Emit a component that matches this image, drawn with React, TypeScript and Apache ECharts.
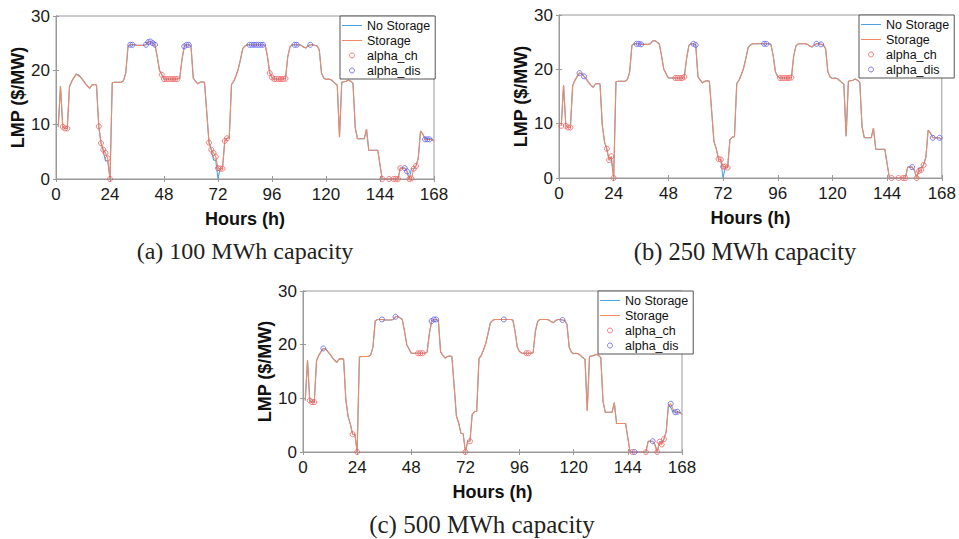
import React, { useEffect, useRef } from "react";
import * as echarts from "echarts";

// ---------- DATA ----------
const xTicks = [0, 24, 48, 72, 96, 120, 144, 168];
const yTicks = [0, 10, 20, 30];

// LMP without storage, hours 1..168
const noStorage = [
  9.6, 17.1, 9.6, 9.3, 9.3, 17.0, 18.0, 18.7, 19.3, 19.2, 18.7, 18.2, 17.6, 17.1, 16.7, 17.3, 17.4, 17.3, 9.7, 6.6,
  5.2, 3.3, 3.3, 0.0, 17.7, 17.8, 17.8, 17.8, 17.8, 18.1, 19.5, 24.4, 24.7, 24.7, 24.7, 24.6, 24.6, 24.6, 24.6, 24.7,
  25.2, 25.3, 25.0, 24.7, 22.5, 20.0, 19.2, 18.4, 18.4, 18.4, 18.4, 18.4, 18.4, 18.4, 18.6, 22.0, 24.4, 24.7, 24.7, 24.5,
  18.6, 18.0, 17.5, 17.8, 17.9, 17.8, 12.3, 6.7, 5.4, 3.5, 3.4, 0.0, 2.0, 2.0, 7.0, 7.5, 7.6, 17.4, 18.0, 19.0,
  20.2, 22.0, 24.0, 24.5, 24.7, 24.7, 24.7, 24.7, 24.7, 24.7, 24.7, 24.7, 24.6, 22.5, 19.5, 18.7, 18.4, 18.4, 18.4, 18.4,
  18.4, 18.5, 22.5, 24.3, 24.7, 24.7, 24.7, 24.7, 24.6, 24.3, 24.1, 24.5, 24.7, 24.7, 24.6, 24.5, 23.8, 19.5, 18.6, 18.3,
  18.4, 18.3, 18.0, 17.6, 17.3, 7.7, 17.8, 17.9, 18.0, 18.2, 18.0, 17.6, 9.4, 7.4, 7.4, 7.4, 7.4, 9.2, 5.3, 5.3,
  5.3, 5.3, 5.3, 2.6, 0.0, 0.0, 0.0, 0.0, 0.0, 0.0, 0.0, 0.0, 2.0, 2.0, 2.0, 1.4, 0.0, 1.9, 1.9, 2.4,
  3.8, 8.8, 8.3, 7.5, 7.4, 7.4, 7.4, 7.0,
];

// Storage LMP = no-storage LMP except at these [hour, value] points
const storageDiffA: [number, number][] = [
  [10, 19.0], [21, 5.4], [22, 4.8], [23, 3.8], [70, 4.8], [71, 4.1], [72, 2.0], [73, 1.9], [74, 1.9],
  [158, 0.1], [164, 7.3], [165, 7.3], [166, 7.3], [167, 7.2],
];
const storageDiffB: [number, number][] = [
  [21, 5.4], [23, 4.0], [72, 2.1], [73, 2.1], [74, 1.9], [158, 1.3], [159, 1.5], [164, 7.4], [165, 7.4],
];
const storageDiffC: [number, number][] = [
  [159, 1.4], [163, 9.0], [164, 8.0], [165, 7.4], [166, 7.5],
];

// hours flagged as charging / discharging
const chargeA = [3, 4, 5, 19, 20, 21, 22, 23, 24, 47, 48, 49, 50, 51, 52, 53, 54, 68, 69, 70, 71, 72, 73, 74, 75, 76,
  95, 96, 97, 98, 99, 100, 101, 102, 145, 148, 150, 151, 152, 153, 157, 158, 159, 160];
const dischargeA = [33, 34, 40, 41, 42, 43, 44, 57, 58, 59, 86, 87, 88, 89, 90, 91, 92, 106, 107, 113, 155, 156, 164, 165, 166];

const chargeB = [1, 3, 4, 5, 21, 22, 23, 24, 51, 52, 53, 54, 55, 70, 71, 72, 73, 74, 97, 98, 99, 100, 101, 102,
  146, 149, 151, 152, 157, 158, 159, 160];
const dischargeB = [9, 11, 34, 35, 36, 59, 60, 90, 91, 113, 115, 155, 164, 167];

const chargeC = [3, 4, 5, 22, 24, 51, 52, 53, 72, 74, 99, 100, 146, 152, 157, 158, 159, 160];
const dischargeC = [9, 35, 41, 57, 58, 59, 89, 115, 147, 155, 163, 165, 166];

const seriesNames = ["No Storage", "Storage", "alpha_ch", "alpha_dis"];
const captions = ["(a) 100 MWh capacity", "(b) 250 MWh capacity", "(c) 500 MWh capacity"];
const xTitle = "Hours (h)";
const yTitle = "LMP ($/MW)";

// ---------- STYLE / LAYOUT ----------
const FONT = 'Arial, "Liberation Sans", Helvetica, sans-serif';
const SERIF = '"Times New Roman", "Liberation Serif", serif';
const C_NS = "#4ea3dc";
const C_ST = "#f08a66";
const C_CH = "#f25c5c";
const C_DIS = "#5c5cf2";
const AX = "#9a9a9a";
const LINE_ICON = "path://M0,0H20V1H0Z";

const layouts = [
  { grid: { left: 56, top: 16, width: 378, height: 163 }, legend: { left: 340, top: 16 }, cap: { x: 245, y: 251, size: 24 } },
  { grid: { left: 559, top: 15, width: 383, height: 163 }, legend: { left: 859, top: 15 }, cap: { x: 745, y: 251, size: 24.5 } },
  { grid: { left: 303, top: 291, width: 379, height: 161 }, legend: { left: 598, top: 291 }, cap: { x: 482, y: 524, size: 25 } },
];

function applyDiff(base: number[], diff: [number, number][]) {
  const out = base.slice();
  diff.forEach(([h, v]) => { out[h - 1] = v; });
  return out;
}

function App() {
  const ref = useRef<HTMLDivElement>(null);
  useEffect(() => {
    if (!ref.current) return;
    const chart = echarts.init(ref.current, null, { renderer: "svg" });
    const storages = [applyDiff(noStorage, storageDiffA), applyDiff(noStorage, storageDiffB), applyDiff(noStorage, storageDiffC)];
    const charges = [chargeA, chargeB, chargeC];
    const discharges = [dischargeA, dischargeB, dischargeC];
    const nsPairs = noStorage.map((v, i) => [i + 1, v]);

    const grids: any[] = [];
    const xAxes: any[] = [];
    const yAxes: any[] = [];
    const series: any[] = [];
    const legends: any[] = [];
    const graphics: any[] = [];

    layouts.forEach((L, i) => {
      grids.push({ ...L.grid, show: true, borderColor: AX, borderWidth: 1, backgroundColor: "#fff" });
      const tick = { inside: true, length: 3, lineStyle: { color: AX } };
      xAxes.push({
        gridIndex: i, type: "value", min: xTicks[0], max: xTicks[xTicks.length - 1], interval: 24,
        axisLine: { show: true, lineStyle: { color: AX } }, axisTick: tick, splitLine: { show: false },
        axisLabel: { color: "#1a1a1a", fontSize: 17, fontFamily: FONT, margin: 7 },
        name: xTitle, nameLocation: "middle", nameGap: 31,
        nameTextStyle: { fontWeight: "bold", fontSize: 18, color: "#111", fontFamily: FONT },
      });
      xAxes.push({
        gridIndex: i, type: "value", position: "top", min: xTicks[0], max: xTicks[xTicks.length - 1], interval: 24,
        axisLine: { show: true, lineStyle: { color: AX } }, axisTick: tick, axisLabel: { show: false }, splitLine: { show: false },
      });
      yAxes.push({
        gridIndex: i, type: "value", min: yTicks[0], max: yTicks[yTicks.length - 1], interval: 10,
        axisLine: { show: true, lineStyle: { color: AX } }, axisTick: tick, splitLine: { show: false },
        axisLabel: { color: "#1a1a1a", fontSize: 17, fontFamily: FONT, margin: 6 },
        name: yTitle, nameLocation: "middle", nameGap: 26, nameRotate: 90,
        nameTextStyle: { fontWeight: "bold", fontSize: 18, color: "#111", fontFamily: FONT },
      });
      yAxes.push({
        gridIndex: i, type: "value", position: "right", min: yTicks[0], max: yTicks[yTicks.length - 1], interval: 10,
        axisLine: { show: true, lineStyle: { color: AX } }, axisTick: tick, axisLabel: { show: false }, splitLine: { show: false },
      });
      const xi = i * 2, yi = i * 2;
      const st = storages[i];
      series.push({
        type: "line", name: seriesNames[0], xAxisIndex: xi, yAxisIndex: yi, data: nsPairs,
        symbol: "none", showSymbol: false, color: C_NS, lineStyle: { width: 1.1, color: C_NS }, silent: true, z: 2,
      });
      series.push({
        type: "line", name: seriesNames[1], xAxisIndex: xi, yAxisIndex: yi, data: st.map((v, k) => [k + 1, v]),
        symbol: "none", showSymbol: false, color: C_ST, lineStyle: { width: 1.1, color: C_ST }, silent: true, z: 3,
      });
      series.push({
        type: "scatter", name: seriesNames[2], xAxisIndex: xi, yAxisIndex: yi,
        data: charges[i].map((h) => [h, st[h - 1]]), symbol: "circle", symbolSize: 5, color: C_CH,
        itemStyle: { color: "rgba(0,0,0,0)", borderColor: C_CH, borderWidth: 1 }, silent: true, z: 4,
      });
      series.push({
        type: "scatter", name: seriesNames[3], xAxisIndex: xi, yAxisIndex: yi,
        data: discharges[i].map((h) => [h, st[h - 1]]), symbol: "circle", symbolSize: 5, color: C_DIS,
        itemStyle: { color: "rgba(0,0,0,0)", borderColor: C_DIS, borderWidth: 1 }, silent: true, z: 4,
      });
      legends.push({
        left: L.legend.left, top: L.legend.top, orient: "vertical", itemWidth: 20, itemHeight: 5, itemGap: 2,
        padding: [3, 5, 2, 2], borderColor: "#555", borderWidth: 1, backgroundColor: "#fff", selectedMode: false,
        textStyle: { fontSize: 12.5, fontFamily: FONT, color: "#111", lineHeight: 13 }, z: 10,
        data: [
          { name: seriesNames[0], icon: LINE_ICON, itemStyle: { color: C_NS } },
          { name: seriesNames[1], icon: LINE_ICON, itemStyle: { color: C_ST } },
          { name: seriesNames[2], icon: "circle", itemStyle: { color: "rgba(0,0,0,0)", borderColor: C_CH, borderWidth: 1 } },
          { name: seriesNames[3], icon: "circle", itemStyle: { color: "rgba(0,0,0,0)", borderColor: C_DIS, borderWidth: 1 } },
        ],
      });
      graphics.push({
        type: "text", x: L.cap.x, y: L.cap.y,
        style: {
          text: captions[i], fontSize: L.cap.size, fontFamily: SERIF, fill: "#222",
          align: "center", verticalAlign: "middle", textAlign: "center", textVerticalAlign: "middle",
        },
      });
    });

    chart.setOption({
      animation: false,
      backgroundColor: "#fff",
      grid: grids,
      xAxis: xAxes,
      yAxis: yAxes,
      series,
      legend: legends,
      graphic: graphics,
    });
    return () => chart.dispose();
  }, []);
  return <div ref={ref} style={{ position: "fixed", left: 0, top: 0, width: 959, height: 539 }} />;
}

export default App;
